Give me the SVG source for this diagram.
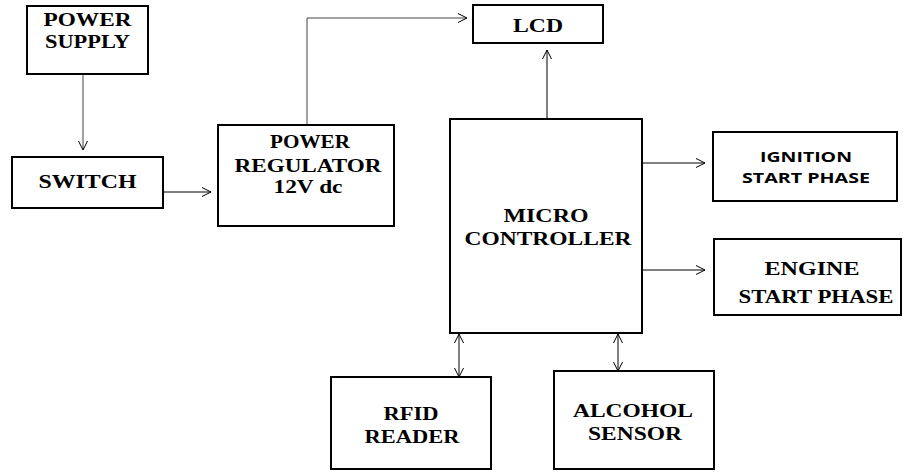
<svg xmlns="http://www.w3.org/2000/svg" width="903" height="472" viewBox="0 0 903 472">
<style>
.box{fill:#fff;stroke:#000;stroke-width:2}
.t{font-family:"Liberation Serif","Times New Roman",serif;font-weight:bold;font-size:19px;fill:#000;text-anchor:middle}
.s{font-family:"Open Sans","Liberation Sans",sans-serif;font-weight:bold;font-size:15px;fill:#000;text-anchor:middle}
.c{fill:none;stroke:#000;stroke-width:1}
.g{stroke:#444}
</style>
<defs>
<marker id="ah" markerUnits="userSpaceOnUse" markerWidth="12" markerHeight="12" refX="9" refY="5" orient="auto-start-reverse" viewBox="0 0 12 10">
<path d="M0,0.5 L9,5 L0,9.5" fill="none" stroke="#000" stroke-width="1"/>
</marker>
</defs>
<rect width="903" height="472" fill="#fff"/>
<g id="connectors">
<line class="c g" x1="83" y1="74" x2="83" y2="150" marker-end="url(#ah)"/>
<line class="c" x1="163" y1="192" x2="211" y2="192" marker-end="url(#ah)"/>
<polyline class="c g" points="307,125 307,18 467,18" marker-end="url(#ah)"/>
<line class="c" x1="547" y1="119" x2="547" y2="50" marker-end="url(#ah)"/>
<line class="c" x1="642" y1="163" x2="705" y2="163" marker-end="url(#ah)"/>
<line class="c" x1="642" y1="270" x2="705" y2="270" marker-end="url(#ah)"/>
<line class="c" x1="459" y1="334" x2="459" y2="377" marker-start="url(#ah)" marker-end="url(#ah)"/>
<line class="c" x1="618" y1="334" x2="618" y2="371" marker-start="url(#ah)" marker-end="url(#ah)"/>
</g>
<g id="power-supply">
<rect class="box" x="27" y="6" width="121" height="68"/>
<text class="t" x="87.5" y="26" textLength="88" lengthAdjust="spacingAndGlyphs">POWER</text>
<text class="t" x="87.5" y="48" textLength="85" lengthAdjust="spacingAndGlyphs">SUPPLY</text>
</g>
<g id="switch">
<rect class="box" x="12" y="157" width="151" height="51"/>
<text class="t" x="87.5" y="188" textLength="98" lengthAdjust="spacingAndGlyphs">SWITCH</text>
</g>
<g id="power-regulator">
<rect class="box" x="218" y="125" width="176" height="101"/>
<text class="t" x="310" y="148" textLength="80" lengthAdjust="spacingAndGlyphs">POWER</text>
<text class="t" x="308" y="172" textLength="147" lengthAdjust="spacingAndGlyphs">REGULATOR</text>
<text class="t" x="308" y="193" textLength="69" lengthAdjust="spacingAndGlyphs">12V dc</text>
</g>
<g id="lcd">
<rect class="box" x="473" y="5" width="130" height="38"/>
<text class="t" x="538" y="32" textLength="50" lengthAdjust="spacingAndGlyphs">LCD</text>
</g>
<g id="micro-controller">
<rect class="box" x="450" y="119" width="192" height="214"/>
<text class="t" x="546" y="222" textLength="85" lengthAdjust="spacingAndGlyphs">MICRO</text>
<text class="t" x="548" y="245" textLength="167" lengthAdjust="spacingAndGlyphs">CONTROLLER</text>
</g>
<g id="ignition">
<rect class="box" x="713" y="132" width="184" height="69"/>
<text class="s" x="806" y="162" textLength="92" lengthAdjust="spacingAndGlyphs">IGNITION</text>
<text class="s" x="806" y="183" textLength="128" lengthAdjust="spacingAndGlyphs">START PHASE</text>
</g>
<g id="engine">
<rect class="box" x="714" y="239" width="187" height="76"/>
<text class="t" x="812" y="275" textLength="95" lengthAdjust="spacingAndGlyphs">ENGINE</text>
<text class="t" x="816" y="303" textLength="155" lengthAdjust="spacingAndGlyphs">START PHASE</text>
</g>
<g id="rfid-reader">
<rect class="box" x="331" y="377" width="160" height="92"/>
<text class="t" x="411" y="420" textLength="55" lengthAdjust="spacingAndGlyphs">RFID</text>
<text class="t" x="412" y="443" textLength="95" lengthAdjust="spacingAndGlyphs">READER</text>
</g>
<g id="alcohol-sensor">
<rect class="box" x="554" y="371" width="160" height="98"/>
<text class="t" x="633" y="417" textLength="120" lengthAdjust="spacingAndGlyphs">ALCOHOL</text>
<text class="t" x="635" y="440" textLength="94" lengthAdjust="spacingAndGlyphs">SENSOR</text>
</g>
</svg>
